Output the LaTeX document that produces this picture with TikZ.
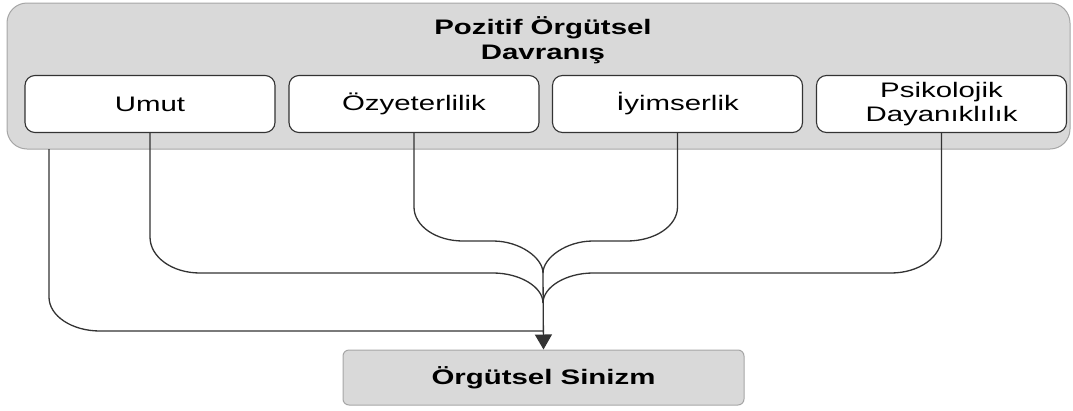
\documentclass[tikz,border=0pt]{standalone}
\usepackage{fontspec}
\setmainfont{Liberation Sans}[FakeStretch=1.4]
\usetikzlibrary{arrows.meta}
\definecolor{panel}{HTML}{D9D9D9}
\definecolor{panelline}{HTML}{A6A6A6}
\definecolor{ink}{HTML}{333333}
\tikzset{
 outerbox/.style={draw=panelline, fill=panel, rounded corners=20pt, line width=1pt, minimum width=1063pt, minimum height=146pt, inner sep=0pt},
 itembox/.style={draw=ink, fill=white, rounded corners=10pt, line width=1.1pt, minimum width=250pt, minimum height=57pt, inner sep=0pt, align=center, font=\fontsize{21}{24.5}\selectfont},
 resultbox/.style={draw=panelline, fill=panel, rounded corners=6pt, line width=1pt, minimum width=401pt, minimum height=55pt, inner sep=0pt, font=\bfseries\fontsize{21}{24.5}\selectfont},
 titletext/.style={align=center, inner sep=0pt, font=\bfseries\fontsize{21}{24.5}\selectfont},
 link/.style={draw=ink, line width=1.3pt},
}
\begin{document}
\begin{tikzpicture}[x=1pt,y=-1pt]
\useasboundingbox (0,0) rectangle (1073,410);
\node[outerbox] (panel) at (538.5,76) {};
\node[titletext] (title) at (543,40) {Pozitif Örgütsel\\Davranış};
\node[itembox] (u) at (150,104) {Umut};
\node[itembox] (o) at (414,104) {Özyeterlilik};
\node[itembox] (i) at (677.5,104) {İyimserlik};
\node[itembox] (p) at (941.5,104) {Psikolojik\\Dayanıklılık};
\node[resultbox] (s) at (543.5,377.5) {Örgütsel Sinizm};
\coordinate (a0) at (49,149);
\coordinate (j1) at (543,273);
\coordinate (j2) at (543,303);
\coordinate (j3) at (543,331);
\draw[link] (a0) -- (49,297) .. controls (49,316) and (72,331) .. (100,331) -- (j3);
\draw[link] (u.south) -- (150,237) .. controls (150,257) and (172,273) .. (200,273) -- (493,273) .. controls (520,273) and (543,287) .. (j2);
\draw[link] (p.south) -- (941.5,237) .. controls (941.5,257) and (919,273) .. (891,273) -- (593,273) .. controls (566,273) and (543,287) .. (j2);
\draw[link] (o.south) -- (414,207) .. controls (414,226) and (436,241) .. (463,241) -- (493,241) .. controls (520,241) and (543,258) .. (j1);
\draw[link] (i.south) -- (677.5,207) .. controls (677.5,226) and (655,241) .. (627,241) -- (593,241) .. controls (566,241) and (543,258) .. (j1);
\draw[link,-{Triangle[length=15pt,width=17pt]}] (j1) -- (s.north);
\end{tikzpicture}
\end{document}
